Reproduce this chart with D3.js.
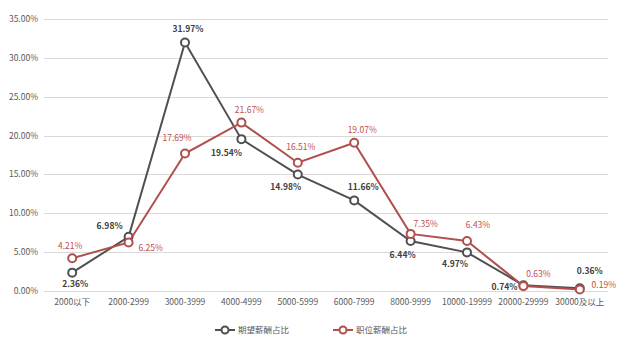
<!DOCTYPE html>
<html><head><meta charset="utf-8">
<script src="https://cdn.jsdelivr.net/npm/d3@7"></script>
<style>body{margin:0;background:#fff}svg{display:block}text{font-family:"Noto Sans CJK SC","Open Sans",sans-serif}</style>
</head><body><svg id="c" width="630" height="352"></svg>
<script>
const categories = ["2000以下","2000-2999","3000-3999","4000-4999","5000-5999","6000-7999","8000-9999","10000-19999","20000-29999","30000及以上"];
const expected = [2.36,6.98,31.97,19.54,14.98,11.66,6.44,4.97,0.74,0.36];
const actual = [4.21,6.25,17.69,21.67,16.51,19.07,7.35,6.43,0.63,0.19];
const seriesNames = ["期望薪酬占比","职位薪酬占比"];
const yTicks = [0,5,10,15,20,25,30,35];
// label offsets (dx, dy from point)
const offExp = [[3,14],[-19,-8],[3,-11],[-15,17],[-12,15],[9,-10],[-8,17],[-12,15],[-19,5],[10,-14]];
const offAct = [[-2,-9],[22,9],[-8,-13],[8,-10],[3,-13],[8,-10],[15,-7],[11,-13],[15,-9],[24,-2]];

const svg = d3.select("#c");
const x = d3.scaleBand().domain(categories).range([44,608]);
const y = d3.scaleLinear().domain([0,35]).range([291,19]);
const cx = d => x(d)+x.bandwidth()/2;

const grid = svg.append("g");
yTicks.forEach(t=>{
  grid.append("line").attr("x1",44).attr("x2",608).attr("y1",Math.round(y(t))+0.5).attr("y2",Math.round(y(t))+0.5)
    .attr("stroke","#d9d9d9").attr("stroke-width",1);
  grid.append("text").attr("x",38).attr("y",y(t)+3).attr("text-anchor","end")
    .attr("font-size",8.5).attr("fill","#595959").text(t.toFixed(2)+"%");
});
categories.forEach(c=>{
  svg.append("text").attr("x",cx(c)).attr("y",305).attr("text-anchor","middle")
    .attr("font-size",8.5).attr("fill","#595959").text(c);
});

const colors = ["#505050","#b0504e"];
const labelColors = ["#404040","#c0504d"];
const line = d3.line().x((d,i)=>cx(categories[i])).y(d=>y(d));
[[expected,offExp],[actual,offAct]].forEach(([vals,offs],s)=>{
  svg.append("path").attr("d",line(vals)).attr("fill","none").attr("stroke",colors[s]).attr("stroke-width",2);
  vals.forEach((v,i)=>{
    svg.append("circle").attr("cx",cx(categories[i])).attr("cy",y(v)).attr("r",4)
      .attr("fill","#fff").attr("stroke",colors[s]).attr("stroke-width",2);
  });
  vals.forEach((v,i)=>{
    svg.append("text").attr("x",cx(categories[i])+offs[i][0]).attr("y",y(v)+offs[i][1])
      .attr("text-anchor","middle").attr("font-size",8.5).attr("font-weight",s===0?"bold":"normal")
      .attr("fill",labelColors[s]).text(v.toFixed(2)+"%");
  });
});

// legend
const lg = [[215,seriesNames[0]],[333,seriesNames[1]]];
lg.forEach(([lx,name],s)=>{
  svg.append("line").attr("x1",lx).attr("x2",lx+20).attr("y1",330).attr("y2",330).attr("stroke",colors[s]).attr("stroke-width",2);
  svg.append("circle").attr("cx",lx+10).attr("cy",330).attr("r",3.5).attr("fill","#fff").attr("stroke",colors[s]).attr("stroke-width",2);
  svg.append("text").attr("x",lx+23).attr("y",333).attr("font-size",8.5).attr("fill","#595959").text(name);
});
</script></body></html>
